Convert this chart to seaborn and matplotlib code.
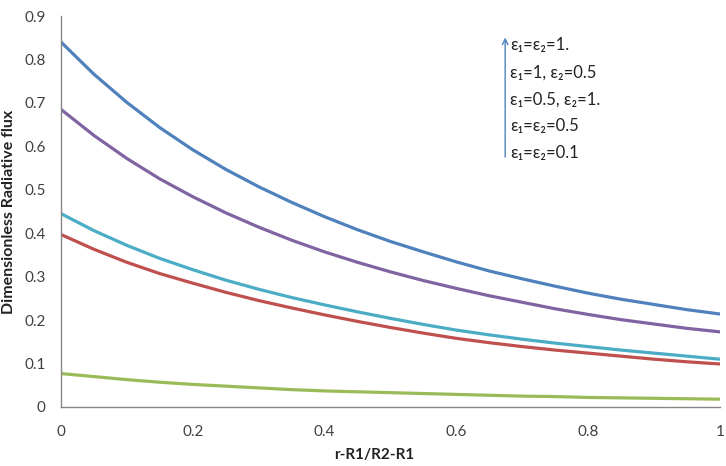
import numpy as np
import pandas as pd
import matplotlib
matplotlib.use('Agg')
import matplotlib.pyplot as plt
import seaborn as sns

# values
x = [0.00, 0.05, 0.10, 0.15, 0.20, 0.25, 0.30, 0.35, 0.40, 0.45, 0.50,
     0.55, 0.60, 0.65, 0.70, 0.75, 0.80, 0.85, 0.90, 0.95, 1.00]
flux_11 = [0.840, 0.766, 0.701, 0.643, 0.592, 0.547, 0.507, 0.471, 0.438, 0.408, 0.381,
           0.357, 0.334, 0.313, 0.295, 0.278, 0.262, 0.248, 0.236, 0.224, 0.214]
flux_1_05 = [0.685, 0.625, 0.572, 0.525, 0.484, 0.447, 0.414, 0.384, 0.357, 0.333, 0.311,
             0.291, 0.273, 0.256, 0.241, 0.226, 0.213, 0.201, 0.191, 0.181, 0.173]
flux_05_1 = [0.445, 0.406, 0.372, 0.342, 0.316, 0.292, 0.271, 0.252, 0.235, 0.219, 0.204,
             0.190, 0.177, 0.166, 0.156, 0.147, 0.139, 0.131, 0.124, 0.117, 0.110]
flux_0505 = [0.397, 0.363, 0.333, 0.307, 0.285, 0.264, 0.245, 0.228, 0.212, 0.197, 0.183,
             0.170, 0.158, 0.148, 0.139, 0.131, 0.124, 0.117, 0.110, 0.104, 0.099]
flux_0101 = [0.077, 0.070, 0.063, 0.057, 0.052, 0.048, 0.044, 0.040, 0.037, 0.035, 0.033,
             0.031, 0.029, 0.027, 0.025, 0.024, 0.022, 0.021, 0.020, 0.019, 0.018]

series_names = ['e11', 'e1_05', 'e05_1', 'e0505', 'e0101']
series_vals = [flux_11, flux_1_05, flux_05_1, flux_0505, flux_0101]
colors = ['#4F81BD', '#8064A2', '#4BACC6', '#C0504D', '#9BBB59']

labels = ['ε₁=ε₂=1.', 'ε₁=1, ε₂=0.5', 'ε₁=0.5, ε₂=1.', 'ε₁=ε₂=0.5', 'ε₁=ε₂=0.1']

df = pd.concat([pd.DataFrame({'x': x, 'flux': v, 'case': n})
                for n, v in zip(series_names, series_vals)])

sns.set_style('white')
plt.rcParams['font.family'] = ['Lato', 'DejaVu Sans']

fig = plt.figure(figsize=(7.26, 4.66), dpi=100)
ax = fig.add_axes([61 / 726, 59 / 466, 659 / 726, 391 / 466])

sns.lineplot(data=df, x='x', y='flux', hue='case', palette=dict(zip(series_names, colors)),
             linewidth=2.3, legend=False, ax=ax)

ax.set_xlim(0, 1)
ax.set_ylim(0, 0.9)
ax.set_xticks([0, 0.2, 0.4, 0.6, 0.8, 1])
ax.set_xticklabels(['0', '0.2', '0.4', '0.6', '0.8', '1'])
ax.set_yticks(np.arange(0, 0.91, 0.1))
ax.set_yticklabels(['0'] + ['%.1f' % v for v in np.arange(0.1, 0.91, 0.1)])

for side in ['top', 'right']:
    ax.spines[side].set_visible(False)
for side in ['left', 'bottom']:
    ax.spines[side].set_color('#868686')
    ax.spines[side].set_linewidth(1)
ax.tick_params(axis='both', which='major', direction='out', length=5, width=1,
               color='#868686', labelcolor='#404040', labelsize=11)
ax.tick_params(axis='x', pad=8)
ax.tick_params(axis='y', pad=6)

ax.set_xlabel('r-R1/R2-R1', fontsize=11, fontweight='bold', color='#222222')
ax.xaxis.set_label_coords(0.476, -0.105)
ax.set_ylabel('Dimensionless Radiative flux', fontsize=11.5, fontweight='bold', color='#222222', labelpad=6)

# annotation: arrow and case labels
ax.annotate('', xy=(0.674, 0.952), xytext=(0.674, 0.632), xycoords='axes fraction',
            arrowprops=dict(arrowstyle='->', color='#4F81BD', lw=1.0))
label_y = [0.926, 0.856, 0.787, 0.718, 0.649]
for lab, ly in zip(labels, label_y):
    ax.text(0.682, ly, lab, transform=ax.transAxes, fontsize=12, color='#222222',
            va='center', ha='left', family=['Lato', 'DejaVu Sans'])

fig.savefig('out.png', dpi=100)
